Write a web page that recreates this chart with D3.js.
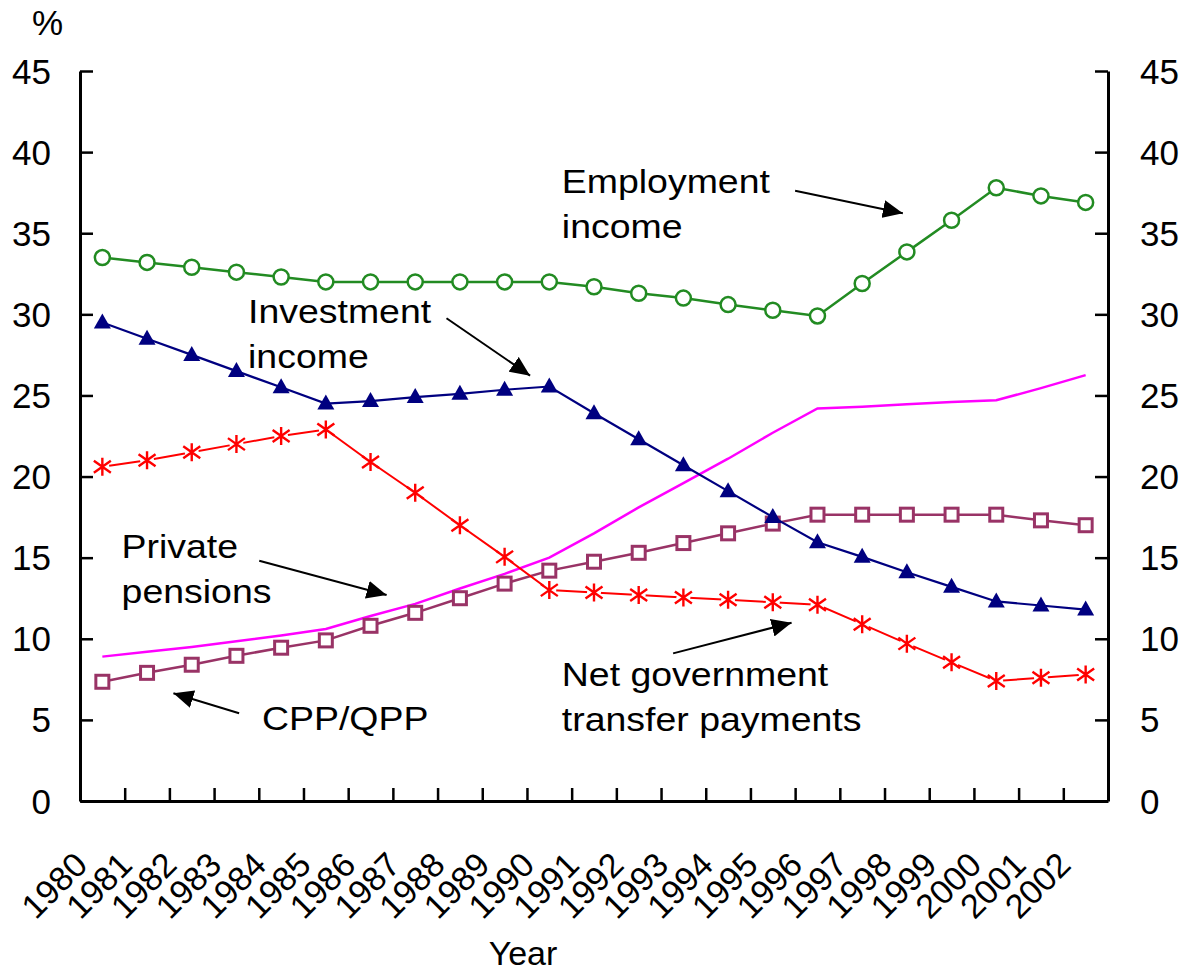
<!DOCTYPE html>
<html>
<head>
<meta charset="utf-8" />
<script src="https://d3js.org/d3.v7.min.js"></script>
<style>
  body { margin: 0; background: #fff; }
  svg text { font-family: "Liberation Sans", Arial, sans-serif; fill: #000; }
</style>
</head>
<body>
<div id="chart"></div>
<script>
// values (percent)
var years = ["1980", "1981", "1982", "1983", "1984", "1985", "1986", "1987", "1988", "1989", "1990", "1991",
  "1992", "1993", "1994", "1995", "1996", "1997", "1998", "1999", "2000", "2001", "2002"];
var yTicks = [0, 5, 10, 15, 20, 25, 30, 35, 40, 45];

var employment = [33.5, 33.2, 32.9, 32.6, 32.3, 32.0, 32.0, 32.0, 32.0, 32.0, 32.0, 31.7,
  31.3, 31.0, 30.6, 30.25, 29.9, 31.9, 33.85, 35.8, 37.8, 37.3, 36.9];
var investment = [29.5, 28.5, 27.5, 26.5, 25.5, 24.5, 24.65, 24.9, 25.1, 25.35, 25.55, 23.9,
  22.3, 20.7, 19.1, 17.5, 15.95, 15.05, 14.1, 13.2, 12.3, 12.05, 11.8];
var netGovernment = [20.6, 21.0, 21.5, 22.0, 22.5, 22.9, 20.9, 19.0, 17.0, 15.05, 13.0, 12.85,
  12.7, 12.55, 12.4, 12.25, 12.1, 10.9, 9.7, 8.55, 7.4, 7.6, 7.8];
var cppQpp = [7.35, 7.9, 8.4, 8.95, 9.45, 9.9, 10.8, 11.6, 12.5, 13.4, 14.2, 14.75,
  15.3, 15.9, 16.5, 17.1, 17.65, 17.65, 17.65, 17.65, 17.65, 17.3, 17.0];
var privatePensions = [8.9, 9.2, 9.5, 9.85, 10.2, 10.6, 11.4, 12.15, 13.1, 14.0, 15.0, 16.5,
  18.1, 19.6, 21.1, 22.7, 24.2, 24.3, 24.45, 24.6, 24.7, 25.45, 26.25];

// annotation texts, placed in data units (year, %)
var labels = [
  { lines: ["Employment", "income"], year: 1990.28, value: 37.46 },
  { lines: ["Investment", "income"], year: 1983.26, value: 29.45 },
  { lines: ["Private", "pensions"], year: 1980.43, value: 14.96 },
  { lines: ["CPP/QPP"], year: 1983.57, value: 4.38 },
  { lines: ["Net government", "transfer payments"], year: 1990.28, value: 7.09 }
];
var arrows = [
  { from: [1995.5, 37.62], to: [1997.91, 36.23] },
  { from: [1987.7, 29.76], to: [1989.57, 26.22] },
  { from: [1983.51, 14.81], to: [1986.36, 12.7] },
  { from: [1983.06, 5.41], to: [1981.59, 6.64] },
  { from: [1992.77, 9.1], to: [1995.42, 10.99] }
];

var margin = { top: 71, right: 80, bottom: 174, left: 80 },
  width = 1188 - margin.left - margin.right,
  height = 975 - margin.top - margin.bottom;

var svg = d3.select("#chart").append("svg")
  .attr("width", 1188)
  .attr("height", 975);

var g = svg.append("g")
  .attr("transform", "translate(" + margin.left + "," + margin.top + ")");

// years sit in the middle of each slot, ticks between them
var x = d3.scaleLinear().domain([1979.5, 2002.5]).range([0, width]);
var y = d3.scaleLinear().domain([0, 45]).range([height, 0]);

// axes with inward ticks
var axisStyle = function (sel) {
  sel.select(".domain").attr("stroke", "#000").attr("stroke-width", 3);
  sel.selectAll(".tick line").attr("stroke", "#000").attr("stroke-width", 2.5);
  sel.selectAll("text").remove();
};

var slotEdges = d3.range(1980.5, 2002.5, 1);
g.append("g")
  .attr("transform", "translate(0," + height + ")")
  .call(d3.axisBottom(x).tickValues(slotEdges).tickSizeInner(-13).tickSizeOuter(0))
  .call(axisStyle);

g.append("g")
  .call(d3.axisLeft(y).tickValues(yTicks).tickSizeInner(-13).tickSizeOuter(0))
  .call(axisStyle);

g.append("g")
  .attr("transform", "translate(" + width + ",0)")
  .call(d3.axisRight(y).tickValues(yTicks).tickSizeInner(-13).tickSizeOuter(0))
  .call(axisStyle);

// tick labels
g.selectAll(".ylab-l").data(yTicks).enter().append("text")
  .attr("x", -29).attr("y", function (d) { return y(d); })
  .attr("dy", "0.36em")
  .style("text-anchor", "end")
  .style("font-size", "35px")
  .text(function (d) { return d; });

g.selectAll(".ylab-r").data(yTicks).enter().append("text")
  .attr("x", width + 32).attr("y", function (d) { return y(d); })
  .attr("dy", "0.36em")
  .style("text-anchor", "start")
  .style("font-size", "35px")
  .text(function (d) { return d; });

g.selectAll(".xlab").data(years).enter().append("text")
  .attr("transform", function (d) { return "translate(" + (x(+d) - 13) + "," + (height + 66) + ") rotate(-45)"; })
  .style("text-anchor", "end")
  .style("font-size", "34px")
  .text(function (d) { return d; });

svg.append("text").attr("x", 32).attr("y", 35).style("font-size", "35px").text("%");
svg.append("text").attr("x", 523).attr("y", 965).style("text-anchor", "middle").style("font-size", "34px").text("Year");

// series
function line(vals) {
  return d3.line()
    .x(function (d, i) { return x(+years[i]); })
    .y(function (d) { return y(d); })(vals);
}

g.append("path").attr("d", line(privatePensions))
  .attr("fill", "none").attr("stroke", "#ff00ff").attr("stroke-width", 2.5);

g.append("path").attr("d", line(cppQpp))
  .attr("fill", "none").attr("stroke", "#993366").attr("stroke-width", 2.5);
g.selectAll(".sq").data(cppQpp).enter().append("rect")
  .attr("x", function (d, i) { return x(+years[i]) - 6.5; })
  .attr("y", function (d) { return y(d) - 6.5; })
  .attr("width", 13).attr("height", 13)
  .attr("fill", "#fff").attr("stroke", "#993366").attr("stroke-width", 3);

g.append("path").attr("d", line(netGovernment))
  .attr("fill", "none").attr("stroke", "#ff0000").attr("stroke-width", 2);
var stars = g.selectAll(".star").data(netGovernment).enter().append("g")
  .attr("transform", function (d, i) { return "translate(" + x(+years[i]) + "," + y(d) + ")"; });
stars.append("circle").attr("r", 7).attr("fill", "#fff");
stars.append("path")
  .attr("d", "M0,-9V9M-8.5,-6L8.5,6M-8.5,6L8.5,-6")
  .attr("stroke", "#ff0000").attr("stroke-width", 2.4).attr("fill", "none");

g.append("path").attr("d", line(investment))
  .attr("fill", "none").attr("stroke", "#000080").attr("stroke-width", 2.2);
g.selectAll(".tri").data(investment).enter().append("path")
  .attr("transform", function (d, i) { return "translate(" + x(+years[i]) + "," + y(d) + ")"; })
  .attr("d", "M0,-9L8.5,6L-8.5,6Z")
  .attr("fill", "#000080");

g.append("path").attr("d", line(employment))
  .attr("fill", "none").attr("stroke", "#228b22").attr("stroke-width", 2.5);
g.selectAll(".circ").data(employment).enter().append("circle")
  .attr("cx", function (d, i) { return x(+years[i]); })
  .attr("cy", function (d) { return y(d); })
  .attr("r", 7.5)
  .attr("fill", "#fff").attr("stroke", "#228b22").attr("stroke-width", 2.5);

// annotations
svg.append("defs").append("marker")
  .attr("id", "head")
  .attr("markerUnits", "userSpaceOnUse")
  .attr("markerWidth", 22).attr("markerHeight", 18)
  .attr("refX", 20).attr("refY", 9)
  .attr("orient", "auto")
  .append("path").attr("d", "M0,0L20,9L0,18Z").attr("fill", "#000");

arrows.forEach(function (a) {
  g.append("line")
    .attr("x1", x(a.from[0])).attr("y1", y(a.from[1]))
    .attr("x2", x(a.to[0])).attr("y2", y(a.to[1]))
    .attr("stroke", "#000").attr("stroke-width", 2)
    .attr("marker-end", "url(#head)");
});

labels.forEach(function (l) {
  l.lines.forEach(function (t, k) {
    g.append("text")
      .attr("transform", "translate(" + x(l.year) + "," + (y(l.value) + k * 45) + ") scale(1.135,1)")
      .style("font-size", "33px")
      .text(t);
  });
});
</script>
</body>
</html>
